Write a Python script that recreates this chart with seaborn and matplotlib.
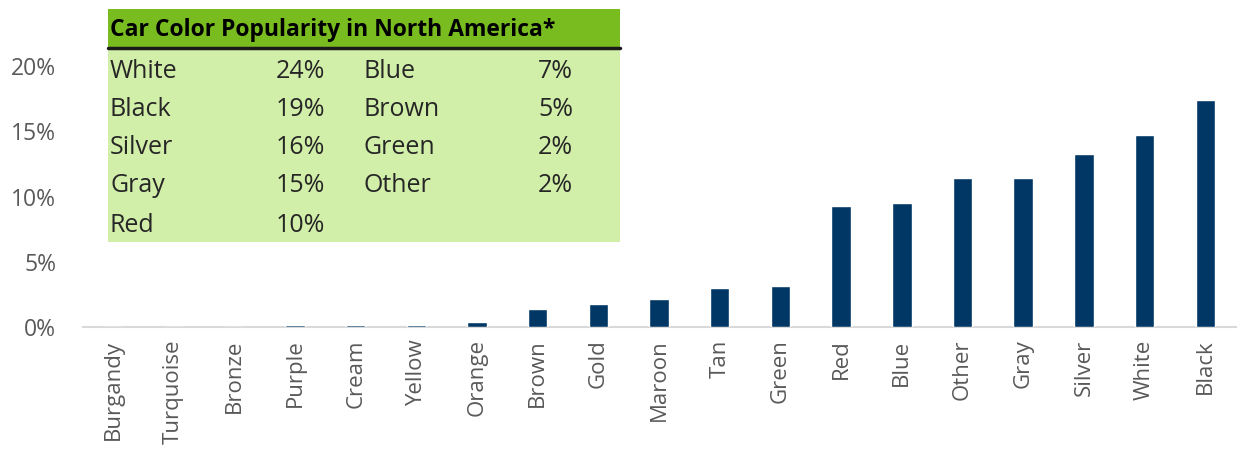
import seaborn as sns
import matplotlib.pyplot as plt
from matplotlib.patches import Rectangle
from matplotlib.ticker import PercentFormatter

# bar data (share of vehicles, %)
colors = ["Burgandy", "Turquoise", "Bronze", "Purple", "Cream", "Yellow", "Orange",
          "Brown", "Gold", "Maroon", "Tan", "Green", "Red", "Blue", "Other",
          "Gray", "Silver", "White", "Black"]
shares = [0.0, 0.0, 0.0, 0.16, 0.16, 0.19, 0.35, 1.38, 1.74, 2.12, 3.0, 3.14,
          9.3, 9.5, 11.4, 11.45, 13.26, 14.7, 17.37]

# inset table data
tbl_title = "Car Color Popularity in North America*"
tbl_left_names = ["White", "Black", "Silver", "Gray", "Red"]
tbl_left_vals = ["24%", "19%", "16%", "15%", "10%"]
tbl_right_names = ["Blue", "Brown", "Green", "Other"]
tbl_right_vals = ["7%", "5%", "2%", "2%"]

sns.set_style("white")
plt.rcParams["font.family"] = ["Open Sans", "DejaVu Sans"]

W, H = 1240, 450
fig = plt.figure(figsize=(W / 100, H / 100), dpi=100)


def fx(px):
    return px / W


def fy(py):
    return 1 - py / H


ax = fig.add_axes([fx(82.6), fy(327), fx(1153), (327 - 66) / H])
sns.barplot(x=colors, y=shares, color="#003764", saturation=1, width=0.32, ax=ax)
for p in ax.patches:
    p.set_zorder(3)

ax.set_ylim(0, 20)
ax.set_xlim(-0.5, len(colors) - 0.5)
ax.yaxis.set_major_formatter(PercentFormatter(decimals=0))
ax.set_yticks([0, 5, 10, 15, 20])
for s in ["top", "right", "left"]:
    ax.spines[s].set_visible(False)
ax.spines["bottom"].set_color("#D9D9D9")
ax.spines["bottom"].set_linewidth(1.5)
ax.spines["bottom"].set_zorder(1)
ax.tick_params(axis="y", length=0, pad=19, labelsize=16.5, labelcolor="#595959")
ax.tick_params(axis="x", length=0, pad=9, labelsize=16, labelcolor="#595959",
               labelrotation=90)
ax.set_xlabel("")
ax.set_ylabel("")

# inset table
fig.patches.append(Rectangle((fx(108), fy(242)), fx(620 - 108), (242 - 47) / H,
                             transform=fig.transFigure, facecolor="#D2EFA9",
                             edgecolor="none", zorder=0))
fig.patches.append(Rectangle((fx(108), fy(47)), fx(620 - 108), (47 - 9) / H,
                             transform=fig.transFigure, facecolor="#78BC1F",
                             edgecolor="none", zorder=0))
fig.add_artist(plt.Line2D([fx(108), fx(620)], [fy(47.5), fy(47.5)],
                          transform=fig.transFigure, color="#1A1A1A", lw=2.5))
fig.text(fx(110), fy(30), tbl_title, fontsize=16.5, fontweight="bold",
         color="black", va="center", ha="left")

row_y = [71, 109, 148, 186, 225]
for i, (n, v) in enumerate(zip(tbl_left_names, tbl_left_vals)):
    fig.text(fx(110), fy(row_y[i]), n, fontsize=18, va="center", ha="left")
    fig.text(fx(325), fy(row_y[i]), v, fontsize=18, va="center", ha="right")
for i, (n, v) in enumerate(zip(tbl_right_names, tbl_right_vals)):
    fig.text(fx(364), fy(row_y[i]), n, fontsize=18, va="center", ha="left")
    fig.text(fx(573), fy(row_y[i]), v, fontsize=18, va="center", ha="right")

fig.savefig("out.png", dpi=100)
